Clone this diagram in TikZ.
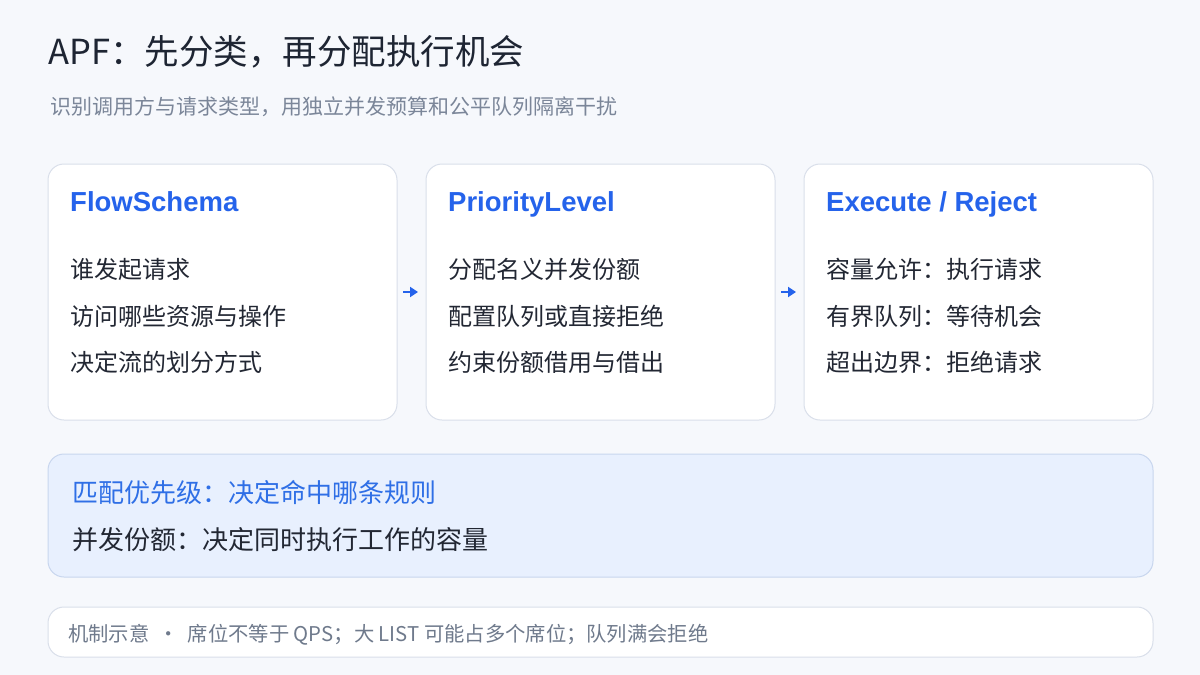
\documentclass[tikz,border=0pt]{standalone}
\usepackage{fontspec}
\setmainfont{Noto Sans CJK SC}
\newfontfamily\titlefont{Liberation Sans}
\usetikzlibrary{arrows.meta}
\definecolor{bg}{HTML}{F6F8FC}
\definecolor{cardline}{HTML}{D9DFEA}
\definecolor{titlec}{HTML}{1E2533}
\definecolor{subc}{HTML}{7B8699}
\definecolor{bluec}{HTML}{2563EB}
\definecolor{itemc}{HTML}{222733}
\definecolor{panelfill}{HTML}{E8F0FE}
\definecolor{panelline}{HTML}{C8D6EE}
\definecolor{panelblue}{HTML}{2F6FE6}
\definecolor{footc}{HTML}{6F7A8C}
\tikzset{
  card/.style={draw=cardline, line width=1pt, fill=white, rounded corners=16pt},
  cardtitle/.style={anchor=base west, text=bluec, font=\titlefont\fontsize{27.5}{32}\selectfont\bfseries, inner sep=0pt},
  item/.style={anchor=west, text=itemc, font=\fontsize{24}{28}\selectfont, inner sep=0pt},
  flow/.style={draw=bluec, line width=1.8pt, -{Triangle[length=8pt,width=10pt]}},
}
\begin{document}
\begin{tikzpicture}[x=1pt,y=-1pt]
\fill[bg] (0,0) rectangle (1200,675);
\useasboundingbox (0,0) rectangle (1200,675);
\node[anchor=west, inner sep=0pt, text=titlec, font=\fontsize{34.5}{40}\selectfont] (title) at (48,52) {APF：先分类，再分配执行机会};
\node[anchor=west, inner sep=0pt, text=subc, font=\fontsize{21}{25}\selectfont] (sub) at (50,107) {识别调用方与请求类型，用独立并发预算和公平队列隔离干扰};
% cards
\draw[card] (48,164) rectangle (397,420);
\draw[card] (426,164) rectangle (775,420);
\draw[card] (804,164) rectangle (1153,420);
\coordinate (c1e) at (403,292);
\coordinate (c2w) at (418,292);
\coordinate (c2e) at (781,292);
\coordinate (c3w) at (796,292);
\node[cardtitle] (t1) at (70,211) {FlowSchema};
\node[item] (a1) at (70,269) {谁发起请求};
\node[item] (a2) at (70,316) {访问哪些资源与操作};
\node[item] (a3) at (70,362) {决定流的划分方式};
\node[cardtitle] (t2) at (448,211) {PriorityLevel};
\node[item] (b1) at (448,269) {分配名义并发份额};
\node[item] (b2) at (448,316) {配置队列或直接拒绝};
\node[item] (b3) at (448,362) {约束份额借用与借出};
\node[cardtitle] (t3) at (826,211) {Execute / Reject};
\node[item] (d1) at (826,269) {容量允许：执行请求};
\node[item] (d2) at (826,316) {有界队列：等待机会};
\node[item] (d3) at (826,362) {超出边界：拒绝请求};
\draw[flow] (c1e) -- (c2w);
\draw[flow] (c2e) -- (c3w);
% panel
\draw[draw=panelline, line width=1pt, fill=panelfill, rounded corners=16pt] (48,454) rectangle (1153,577);
\node[anchor=west, inner sep=0pt, text=panelblue, font=\fontsize{26}{30}\selectfont] (p1) at (72,493) {匹配优先级：决定命中哪条规则};
\node[anchor=west, inner sep=0pt, text=itemc, font=\fontsize{26}{30}\selectfont] (p2) at (72,540) {并发份额：决定同时执行工作的容量};
% footer
\draw[draw=cardline, line width=1pt, fill=white, rounded corners=16pt] (48,607) rectangle (1153,657);
\node[anchor=west, inner sep=0pt, text=footc, font=\fontsize{20.3}{24}\selectfont] (f) at (68,635) {机制示意\ \ ·\ \ 席位不等于 QPS；大 LIST 可能占多个席位；队列满会拒绝};
\end{tikzpicture}
\end{document}
